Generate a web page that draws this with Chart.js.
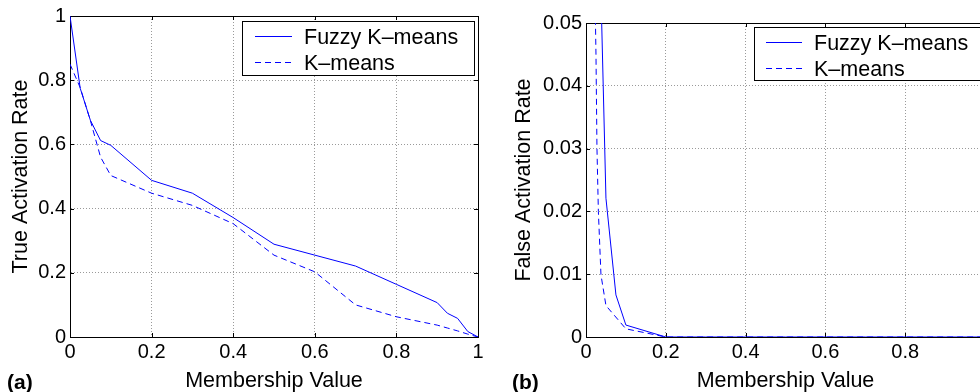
<!DOCTYPE html>
<html><head><meta charset="utf-8">
<script src="https://cdn.jsdelivr.net/npm/chart.js@4.4.1/dist/chart.umd.min.js"></script>
<style>
html,body{margin:0;padding:0;background:#fff;overflow:hidden;width:980px;height:392px;}
#wrapA{position:absolute;left:0;top:0;width:490px;height:392px;}
#wrapB{position:absolute;left:490px;top:0;width:510px;height:392px;}
canvas{display:block;}
</style></head><body>
<div id="wrapA"><canvas id="chartA" width="490" height="392"></canvas></div>
<div id="wrapB"><canvas id="chartB" width="510" height="392"></canvas></div>
<script>
// ---- data ----
const seriesNames = ['Fuzzy K–means', 'K–means'];
const xTickValues = [0, 0.2, 0.4, 0.6, 0.8, 1];
const xTickLabels = ['0', '0.2', '0.4', '0.6', '0.8', '1'];
const tarTickValues = [0, 0.2, 0.4, 0.6, 0.8, 1];
const tarTickLabels = ['0', '0.2', '0.4', '0.6', '0.8', '1'];
const farTickValues = [0, 0.01, 0.02, 0.03, 0.04, 0.05];
const farTickLabels = ['0', '0.01', '0.02', '0.03', '0.04', '0.05'];

// (a) True activation rate
const tarMembership = [0, 0.025, 0.05, 0.075, 0.1, 0.2, 0.3, 0.4, 0.5, 0.6, 0.7, 0.8, 0.9, 0.925, 0.95, 0.975, 1];
const tarFuzzy      = [1.0, 0.775, 0.675, 0.612, 0.597, 0.488, 0.448, 0.372, 0.289, 0.255, 0.221, 0.164, 0.107, 0.074, 0.058, 0.017, 0];
const tarKmeans     = [0.85, 0.777, 0.674, 0.56, 0.503, 0.448, 0.41, 0.353, 0.255, 0.203, 0.1, 0.063, 0.037, 0.028, 0.019, 0.009, 0];

// (b) False activation rate
const farFuzzyMembership  = [0.025, 0.05, 0.075, 0.1, 0.2, 0.3, 0.4, 0.5, 0.6, 0.7, 0.8, 0.9, 1];
const farFuzzy            = [0.0875, 0.0221, 0.0067, 0.0019, 0, 0, 0, 0, 0, 0, 0, 0, 0];
const farKmeansMembership = [0.02, 0.025, 0.0275, 0.031, 0.0375, 0.05, 0.1, 0.2, 0.3, 0.4, 0.5, 0.6, 0.7, 0.8, 0.9, 1];
const farKmeans           = [0.065, 0.045, 0.030, 0.020, 0.0099, 0.005, 0.0013, 0, 0, 0, 0, 0, 0, 0, 0, 0];

// ---- rendering ----
const FONT = '"Liberation Sans", Arial, Helvetica, sans-serif';
const LINE_BLUE = '#0000ff';
Chart.defaults.font.family = FONT;
Chart.defaults.color = '#000';

const matlabPlugin = {
  id: 'matlab',
  beforeDatasetsDraw(chart, args, opts) {
    const {ctx, chartArea: a, scales: {x, y}} = chart;
    const tl = 4;
    ctx.save();
    ctx.strokeStyle = '#000';
    ctx.lineWidth = 1;
    ctx.beginPath();
    x.ticks.forEach(t => {
      const px = Math.round(x.getPixelForValue(t.value)) + 0.5;
      ctx.moveTo(px, a.bottom); ctx.lineTo(px, a.bottom - tl);
      ctx.moveTo(px, a.top); ctx.lineTo(px, a.top + tl);
    });
    y.ticks.forEach(t => {
      const py = Math.round(y.getPixelForValue(t.value)) + 0.5;
      ctx.moveTo(a.left, py); ctx.lineTo(a.left + tl, py);
      ctx.moveTo(a.right, py); ctx.lineTo(a.right - tl, py);
    });
    ctx.stroke();
    ctx.strokeRect(Math.round(a.left) + 0.5, Math.round(a.top) + 0.5,
                   Math.round(a.right - a.left), Math.round(a.bottom - a.top));
    ctx.restore();
  },
  afterDraw(chart, args, opts) {
    const {ctx, chartArea: a} = chart;
    const L = opts.legend;
    ctx.save();
    const bx = Math.round(a.right - L.inset - L.width), by = Math.round(a.top + L.top);
    ctx.fillStyle = '#fff';
    ctx.fillRect(bx, by, L.width, L.height);
    ctx.strokeStyle = '#000'; ctx.lineWidth = 1;
    ctx.strokeRect(bx + 0.5, by + 0.5, L.width, L.height);
    chart.data.datasets.forEach((ds, i) => {
      const cy = by + L.firstRow + i * L.rowGap;
      ctx.strokeStyle = ds.borderColor || LINE_BLUE;
      ctx.lineWidth = ds.borderWidth || 1;
      ctx.setLineDash(ds.borderDash || []);
      ctx.beginPath();
      ctx.moveTo(bx + L.sampleX, cy + 0.5);
      ctx.lineTo(bx + L.sampleX + L.sampleLen, cy + 0.5);
      ctx.stroke();
      ctx.setLineDash([]);
      ctx.fillStyle = '#000';
      ctx.font = '21.5px ' + FONT;
      ctx.textBaseline = 'alphabetic';
      ctx.textAlign = 'left';
      ctx.fillText(ds.label, bx + L.textX, cy + 7.5);
    });
    // panel caption
    ctx.font = 'bold 21px ' + FONT;
    ctx.fillStyle = '#000';
    ctx.textBaseline = 'alphabetic';
    ctx.fillText(opts.caption.text, opts.caption.x, opts.caption.y);
    ctx.restore();
  }
};

function makeDatasets(xa, ya, xb, yb) {
  return [
    { label: seriesNames[0], data: xa.map((m, i) => ({x: m, y: ya[i]})),
      borderColor: LINE_BLUE, borderWidth: 1, pointRadius: 0, fill: false, tension: 0 },
    { label: seriesNames[1], data: xb.map((m, i) => ({x: m, y: yb[i]})),
      borderColor: LINE_BLUE, borderWidth: 1, borderDash: [6, 4], pointRadius: 0, fill: false, tension: 0 }
  ];
}

function makeScales(yVals, yLabels, yMax, yWidth, yTitle, yTitlePad) {
  return {
    x: {
      type: 'linear', min: 0, max: 1,
      afterBuildTicks: s => { s.ticks = xTickValues.map(v => ({value: v})); },
      afterFit: s => { s.height = 55; },
      ticks: { callback: v => xTickLabels[xTickValues.indexOf(v)], font: {size: 20}, color: '#000',
               padding: 3, maxRotation: 0, autoSkip: false },
      grid: { color: '#9a9a9a', lineWidth: 1, drawTicks: false },
      border: { display: true, color: '#000', width: 1, dash: [1, 2] },
      title: { display: true, text: 'Membership Value', color: '#000',
               font: {size: 21.5, lineHeight: 1}, padding: {top: 0, bottom: 0} }
    },
    y: {
      type: 'linear', min: 0, max: yMax,
      afterBuildTicks: s => { s.ticks = yVals.map(v => ({value: v})); },
      afterFit: s => { s.width = yWidth; },
      ticks: { callback: v => yLabels[yVals.indexOf(v)], font: {size: 20}, color: '#000',
               padding: 4, autoSkip: false },
      grid: { color: '#9a9a9a', lineWidth: 1, drawTicks: false },
      border: { display: true, color: '#000', width: 1, dash: [1, 2] },
      title: { display: true, text: yTitle, color: '#000',
               font: {size: 21.5, lineHeight: 1}, padding: {top: yTitlePad, bottom: 0} }
    }
  };
}

new Chart(document.getElementById('chartA'), {
  type: 'line',
  data: { datasets: makeDatasets(tarMembership, tarFuzzy, tarMembership, tarKmeans) },
  options: {
    responsive: false, animation: false,
    layout: { padding: {left: 0, right: 12, top: 15, bottom: 0} },
    scales: makeScales(tarTickValues, tarTickLabels, 1, 70, 'True Activation Rate', 10),
    plugins: {
      legend: {display: false}, tooltip: {enabled: false},
      matlab: {
        legend: {inset: 4, top: 5, width: 232, height: 54, firstRow: 15, rowGap: 26, sampleX: 13, sampleLen: 37, textX: 62},
        caption: {text: '(a)', x: 7, y: 389}
      }
    }
  },
  plugins: [matlabPlugin]
});

new Chart(document.getElementById('chartB'), {
  type: 'line',
  data: { datasets: makeDatasets(farFuzzyMembership, farFuzzy, farKmeansMembership, farKmeans) },
  options: {
    responsive: false, animation: false,
    layout: { padding: {left: 0, right: 15, top: 23, bottom: 0} },
    scales: makeScales(farTickValues, farTickLabels, 0.05, 96, 'False Activation Rate', 23.7),
    plugins: {
      legend: {display: false}, tooltip: {enabled: false},
      matlab: {
        legend: {inset: -1, top: 4, width: 232, height: 53, firstRow: 15, rowGap: 26, sampleX: 12, sampleLen: 36, textX: 60},
        caption: {text: '(b)', x: 22, y: 389}
      }
    }
  },
  plugins: [matlabPlugin]
});
</script>
</body></html>
